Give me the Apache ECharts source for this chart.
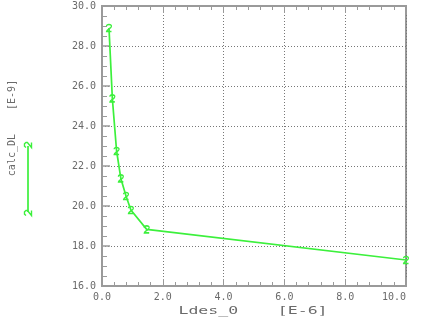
<!DOCTYPE html>
<html>
<head>
<meta charset="utf-8">
<script src="https://cdn.jsdelivr.net/npm/echarts@6/dist/echarts.min.js"></script>
<style>html,body{margin:0;padding:0;background:#fff;}#c{width:422px;height:333px;}</style>
</head>
<body>
<div id="c"></div>
<script>
var ldes = [0.23, 0.34, 0.48, 0.62, 0.79, 0.95, 1.47, 10.0];
var calcDL = [28.9, 25.38, 22.75, 21.38, 20.5, 19.8, 18.83, 17.3];
var xTicks = ['0.0', '2.0', '4.0', '6.0', '8.0', '10.0'];
var yTicks = ['16.0', '18.0', '20.0', '22.0', '24.0', '26.0', '28.0', '30.0'];
var xTitle = 'Ldes_0    [E-6]';
var yTitle = 'calc_DL    [E-9]';

var GREEN = '#3cf03c';
var GRAY = '#9a9a9a';
var TXT = '#6a6a6a';
var FONT = '"DejaVu Sans Mono", monospace';
var twoPath = 'path://M0,1.6 C0,-0.4 4,-0.4 4,1.6 C4,3.2 0,4.6 0,6 L4,6';
var twoPts = [[-2.5, -2], [-1.2, -3.5], [1.2, -3.5], [2.5, -2], [2.5, -0.6], [-2.5, 3.5], [2.5, 3.5]];

var chart = echarts.init(document.getElementById('c'), null, {renderer: 'canvas'});
var data = ldes.map(function (x, i) { return [x, calcDL[i]]; });

function xLabel(v) { var i = Math.round(v / 2); return xTicks[i]; }
function yLabel(v) { var i = Math.round((v - 16) / 2); return yTicks[i]; }

chart.setOption({
  animation: false,
  grid: {left: 102, right: 16, top: 6, bottom: 47, show: true, borderColor: GRAY, borderWidth: 2, backgroundColor: 'transparent'},
  xAxis: [{
    type: 'value', min: 0, max: 10, interval: 2, position: 'bottom',
    axisLine: {show: true, lineStyle: {color: GRAY, width: 2}},
    axisTick: {show: true, inside: true, length: 7, lineStyle: {color: GRAY, width: 1}},
    minorTick: {show: true, splitNumber: 5, length: 4, lineStyle: {color: GRAY, width: 1}},
    splitLine: {show: true, lineStyle: {color: '#777', type: [1, 2], width: 1}},
    axisLabel: {formatter: xLabel, color: TXT, fontFamily: FONT, fontSize: 10, margin: 6, alignMaxLabel: 'right'}
  }, {
    type: 'value', min: 0, max: 10, interval: 2, position: 'top',
    axisLine: {show: true, lineStyle: {color: GRAY, width: 2}},
    axisTick: {show: true, inside: true, length: 7, lineStyle: {color: GRAY, width: 1}},
    minorTick: {show: true, splitNumber: 5, length: 4, lineStyle: {color: GRAY, width: 1}},
    splitLine: {show: false},
    axisLabel: {show: false}
  }],
  yAxis: [{
    type: 'value', min: 16, max: 30, interval: 2, position: 'left',
    axisLine: {show: true, lineStyle: {color: GRAY, width: 2}},
    axisTick: {show: true, inside: true, length: 8, lineStyle: {color: GRAY, width: 1.5}},
    minorTick: {show: true, splitNumber: 4, length: 5, lineStyle: {color: GRAY, width: 1}},
    splitLine: {show: true, lineStyle: {color: '#777', type: [1, 2], width: 1}},
    axisLabel: {formatter: yLabel, color: TXT, fontFamily: FONT, fontSize: 10, margin: 6}
  }],
  series: [{
    type: 'line', data: data, xAxisIndex: 0, yAxisIndex: 0,
    symbol: twoPath, symbolSize: [5, 7], showAllSymbol: true,
    itemStyle: {color: 'rgba(0,0,0,0)', borderColor: GREEN, borderWidth: 1.4},
    lineStyle: {color: GREEN, width: 1.7},
    clip: false
  }],
  graphic: [
    {type: 'text', x: 253, y: 311, scaleX: 1.5, style: {text: xTitle, fill: TXT, font: '11px ' + FONT, textAlign: 'center', textVerticalAlign: 'middle'}},
    {type: 'text', x: 12, y: 128, rotation: Math.PI / 2, style: {text: yTitle, fill: TXT, font: '10px ' + FONT, textAlign: 'center', textVerticalAlign: 'middle'}},
    {type: 'line', shape: {x1: 28, y1: 146, x2: 28, y2: 212}, style: {stroke: GREEN, lineWidth: 1.7}},
    {type: 'polyline', x: 28, y: 145, rotation: Math.PI / 2, shape: {points: twoPts}, style: {fill: null, stroke: GREEN, lineWidth: 1.4}},
    {type: 'polyline', x: 28, y: 213, rotation: Math.PI / 2, shape: {points: twoPts}, style: {fill: null, stroke: GREEN, lineWidth: 1.4}}
  ]
});
</script>
</body>
</html>
